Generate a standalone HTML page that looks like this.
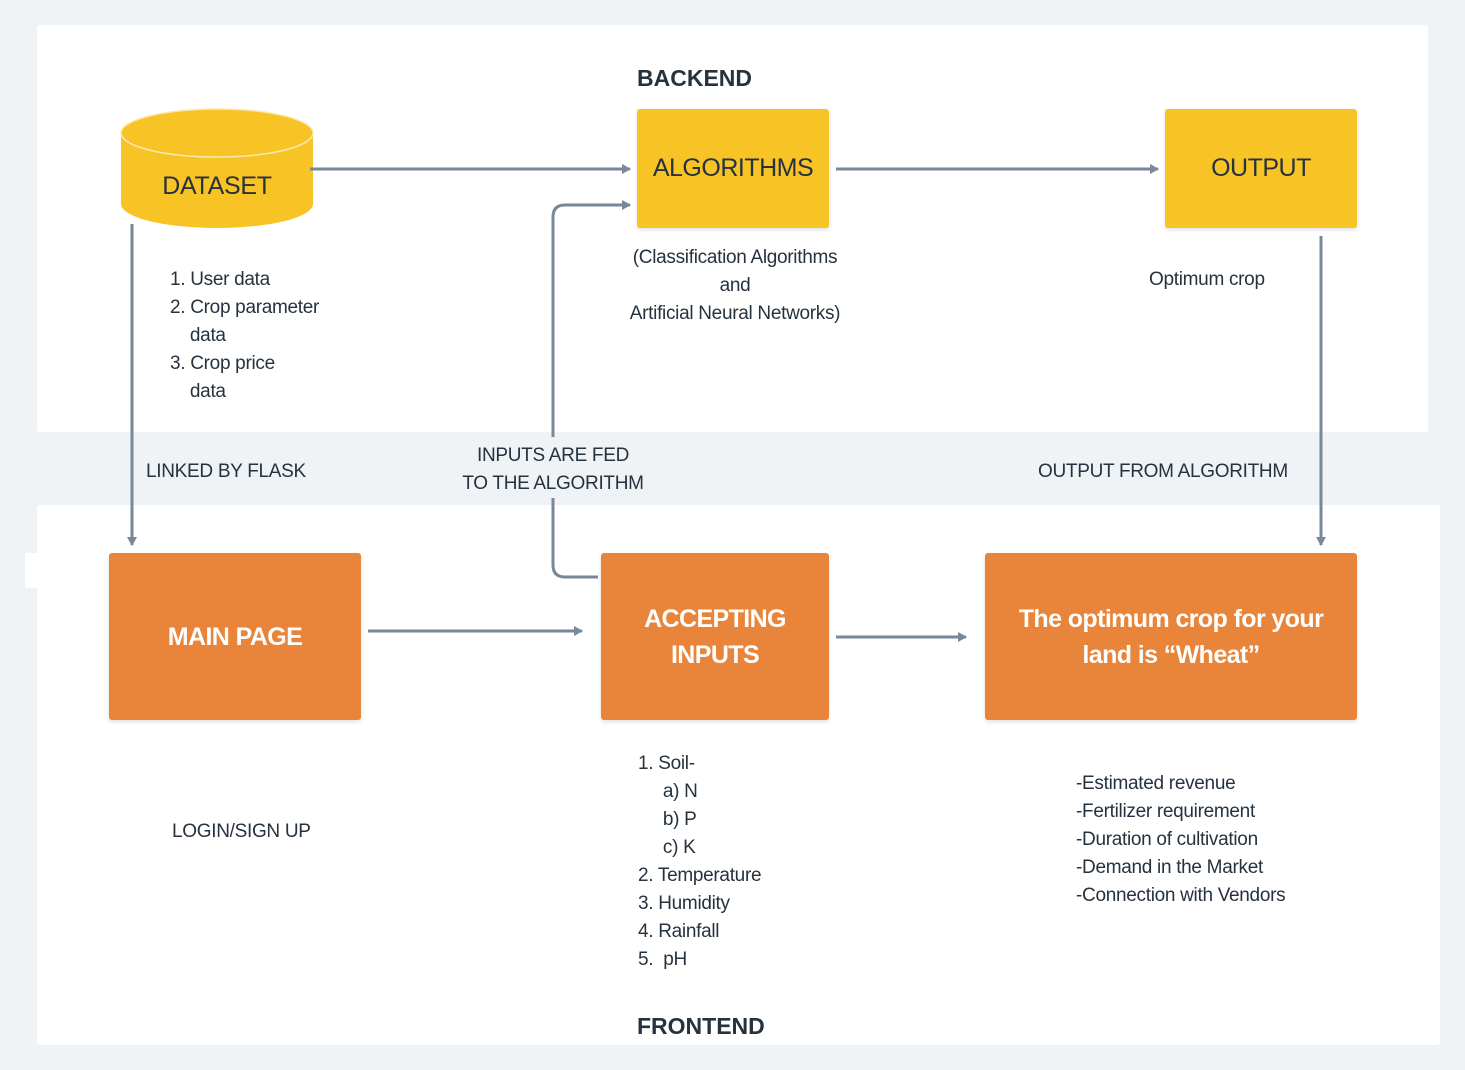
<!DOCTYPE html>
<html><head><meta charset="utf-8"><style>
body{margin:0;width:1465px;height:1070px;background:#eff3f6;position:relative;overflow:hidden;font-family:"Liberation Sans Narrow","Liberation Sans",sans-serif;color:#26323e}
.p{position:absolute;background:#fff;border-radius:3px}
.b{position:absolute;display:flex;align-items:center;justify-content:center;text-align:center;border-radius:3px;box-shadow:0 2px 4px rgba(0,0,0,0.12)}
.y{background:#f7c325;color:#26323e;font-size:25px;letter-spacing:-0.5px}
.o{background:#e8853a;color:#fff;font-size:25px;font-weight:bold;line-height:36px;letter-spacing:-0.6px}
.t{position:absolute;font-size:19px;line-height:28px;white-space:nowrap;letter-spacing:-0.3px}
.h{position:absolute;font-size:23px;font-weight:bold}
</style></head><body>
<div class="p" style="left:37px;top:25px;width:1391px;height:407px"></div>
<div class="p" style="left:37px;top:505px;width:1403px;height:540px"></div>
<div class="p" style="left:25px;top:553px;width:24px;height:35px;border-radius:0"></div>

<svg style="position:absolute;left:0;top:0" width="1465" height="1070">
<defs><marker id="a" markerWidth="12" markerHeight="12" refX="8" refY="6" orient="auto" markerUnits="userSpaceOnUse"><path d="M0,1 L9,6 L0,11 Z" fill="#77889a"/></marker></defs>
<g fill="#f7c325">
<path d="M121,133 L121,204 A96,24 0 0 0 313,204 L313,133 Z"/>
<ellipse cx="217" cy="133" rx="96" ry="24" stroke="#fbe9b0" stroke-width="1.5"/>
</g>
<g stroke="#77889a" stroke-width="3" fill="none" marker-end="url(#a)">
<line x1="310" y1="169" x2="630" y2="169"/>
<line x1="836" y1="169" x2="1158" y2="169"/>
<line x1="132" y1="224" x2="132" y2="545"/>
<line x1="1321" y1="236" x2="1321" y2="545"/>
<line x1="368" y1="631" x2="582" y2="631"/>
<line x1="836" y1="637" x2="966" y2="637"/>
<path d="M553,437 L553,217 Q553,205 565,205 L630,205"/>
</g>
<path d="M598,577 L565,577 Q553,577 553,565 L553,498" stroke="#77889a" stroke-width="3" fill="none"/>
</svg>

<div class="t" style="left:121px;top:172px;width:192px;text-align:center;font-size:25px">DATASET</div>
<div class="b y" style="left:637px;top:109px;width:192px;height:119px;align-items:flex-start;padding-top:45px;box-sizing:border-box">ALGORITHMS</div>
<div class="b y" style="left:1165px;top:109px;width:192px;height:119px;align-items:flex-start;padding-top:45px;box-sizing:border-box">OUTPUT</div>
<div class="b o" style="left:109px;top:553px;width:252px;height:167px">MAIN PAGE</div>
<div class="b o" style="left:601px;top:553px;width:228px;height:167px;align-items:flex-start;padding-top:48px;box-sizing:border-box">ACCEPTING<br>INPUTS</div>
<div class="b o" style="left:985px;top:553px;width:372px;height:167px;align-items:flex-start;padding-top:48px;box-sizing:border-box">The optimum crop for your<br>land is “Wheat”</div>

<div class="h" style="left:637px;top:65px">BACKEND</div>
<div class="h" style="left:637px;top:1013px">FRONTEND</div>

<div class="t" style="left:170px;top:266px">1. User data<br>2. Crop parameter<br>&nbsp;&nbsp;&nbsp;&nbsp;data<br>3. Crop price<br>&nbsp;&nbsp;&nbsp;&nbsp;data</div>
<div class="t" style="left:610px;top:244px;width:250px;text-align:center">(Classification Algorithms<br>and<br>Artificial Neural Networks)</div>
<div class="t" style="left:1149px;top:266px">Optimum crop</div>
<div class="t" style="left:146px;top:458px">LINKED BY FLASK</div>
<div class="t" style="left:453px;top:442px;width:200px;text-align:center">INPUTS ARE FED<br>TO THE ALGORITHM</div>
<div class="t" style="left:1038px;top:458px">OUTPUT FROM ALGORITHM</div>
<div class="t" style="left:172px;top:818px">LOGIN/SIGN UP</div>
<div class="t" style="left:638px;top:750px">1. Soil-<br>&nbsp;&nbsp;&nbsp;&nbsp;&nbsp;a) N<br>&nbsp;&nbsp;&nbsp;&nbsp;&nbsp;b) P<br>&nbsp;&nbsp;&nbsp;&nbsp;&nbsp;c) K<br>2. Temperature<br>3. Humidity<br>4. Rainfall<br>5.&nbsp; pH</div>
<div class="t" style="left:1076px;top:770px">-Estimated revenue<br>-Fertilizer requirement<br>-Duration of cultivation<br>-Demand in the Market<br>-Connection with Vendors</div>
</body></html>
